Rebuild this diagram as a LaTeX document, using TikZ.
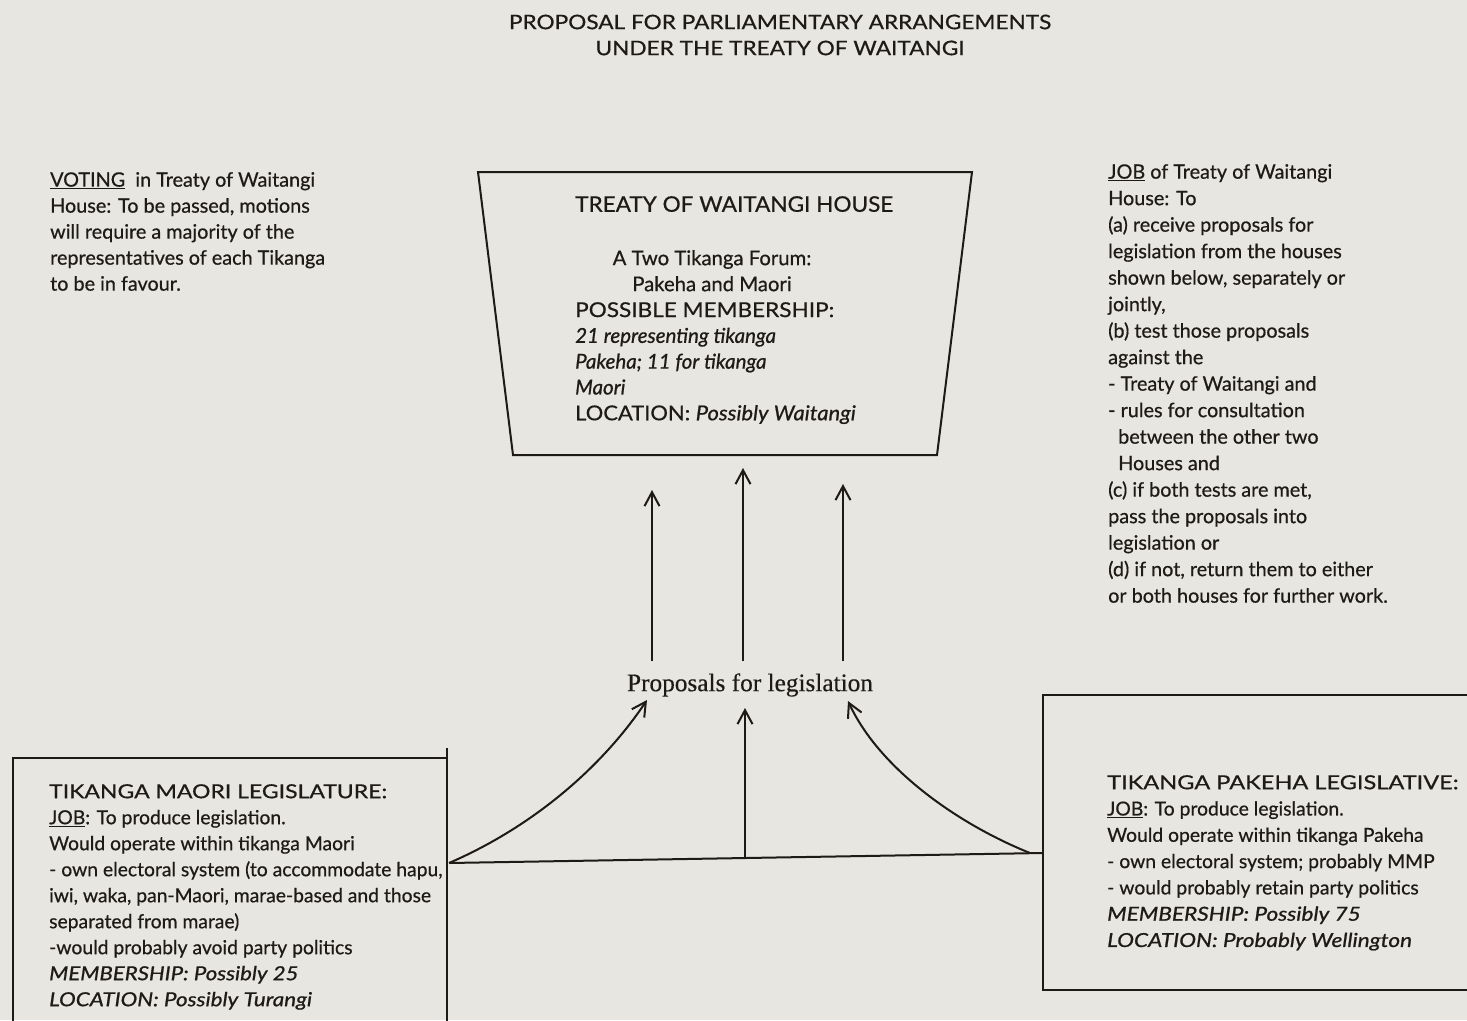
\documentclass[tikz,border=0pt]{standalone}
\usepackage{fontspec}
\setmainfont{Lato}[FakeBold=0.6, ItalicFeatures={FakeBold=0.8}]
\newfontfamily\labelserif{Liberation Serif}[FakeBold=0.4]
\usetikzlibrary{arrows.meta}
\definecolor{scanpaper}{RGB}{232,230,224}
\definecolor{scanink}{RGB}{30,26,24}
\newcommand{\wide}[2]{\scalebox{#1}[1]{#2}}

\begin{document}
\begin{tikzpicture}[x=1pt, y=-1pt,
    every node/.style={inner sep=0pt, text=scanink},
    note/.style={anchor=north west, align=left, font=\fontsize{19.3}{26}\selectfont},
    frame/.style={draw=scanink, line width=2pt},
    arrow/.style={-{Straight Barb[length=14pt, width=15pt, line width=2pt]}, draw=scanink, line width=2pt}
  ]
  \useasboundingbox (0,0) rectangle (1467,1020);
  \fill[scanpaper] (0,0) rectangle (1467,1020);

  % title
  \node[font=\fontsize{20}{26}\selectfont, align=center] (title) at (780,35)
    {\wide{1.13}{PROPOSAL FOR PARLIAMENTARY ARRANGEMENTS}\\\wide{1.13}{UNDER THE TREATY OF WAITANGI}};

  % treaty house
  \coordinate (houseTL) at (478,172);
  \coordinate (houseTR) at (972,172);
  \coordinate (houseBR) at (937,455);
  \coordinate (houseBL) at (513,455);
  \draw[frame] (houseTL) -- (houseTR) -- (houseBR) -- (houseBL) -- cycle;
  \node[note, font=\fontsize{21.5}{26}\selectfont] (houseName) at (575,196) {\wide{1.05}{TREATY OF WAITANGI HOUSE}};
  \node[anchor=north, align=center, font=\fontsize{20.3}{26}\selectfont] (forum) at (712,250)
    {A Two Tikanga Forum:\\Pakeha and Maori};
  \node[note, font=\fontsize{20.5}{25.8}\selectfont] (membership) at (575,302)
    {\wide{1.1}{POSSIBLE MEMBERSHIP:}\\
     \textit{21 representing tikanga}\\
     \textit{Pakeha; 11 for tikanga}\\
     \textit{Maori}\\
     \wide{1.07}{LOCATION: \textit{Possibly Waitangi}}};

  % side notes
  \node[note, font=\fontsize{19.8}{26}\selectfont] (voting) at (50,172)
    {\underline{VOTING}\ \ in Treaty of Waitangi\\
     House: To be passed, motions\\
     will require a majority of the\\
     representatives of each Tikanga\\
     to be in favour.};
  \node[note, font=\fontsize{19.8}{26.5}\selectfont] (houseJob) at (1108,164)
    {\underline{JOB} of Treaty of Waitangi\\
     House: To\\
     (a) receive proposals for\\
     legislation from the houses\\
     shown below, separately or\\
     jointly,\\
     (b) test those proposals\\
     against the\\
     - Treaty of Waitangi and\\
     - rules for consultation\\
     \hspace*{10pt}between the other two\\
     \hspace*{10pt}Houses and\\
     (c) if both tests are met,\\
     pass the proposals into\\
     legislation or\\
     (d) if not, return them to either\\
     or both houses for further work.};

  % proposals
  \node[font=\labelserif\fontsize{25.3}{28}\selectfont] (proposals) at (750,685) {Proposals for legislation};
  \coordinate (tipL) at (652,490);
  \coordinate (tipM) at (743,468);
  \coordinate (tipR) at (843,484);
  \draw[arrow, shorten <=12pt] (proposals.north -| tipL) -- (tipL);
  \draw[arrow, shorten <=12pt] (proposals.north -| tipM) -- (tipM);
  \draw[arrow, shorten <=12pt] (proposals.north -| tipR) -- (tipR);

  % legislatures
  \draw[frame] (13,1030) -- (13,758) -- (447,758);
  \draw[frame] (447,748) -- (447,1030);
  \node[note] (maori) at (49,784)
    {\wide{1.19}{TIKANGA MAORI LEGISLATURE:}\\
     \underline{JOB}: To produce legislation.\\
     Would operate within tikanga Maori\\
     - own electoral system (to accommodate hapu,\\
     iwi, waka, pan-Maori, marae-based and those\\
     separated from marae)\\
     -would probably avoid party politics\\
     \wide{1.15}{\textit{MEMBERSHIP: Possibly 25}}\\
     \wide{1.16}{\textit{LOCATION: Possibly Turangi}}};
  \draw[frame] (1470,695) -- (1043,695) -- (1043,990) -- (1470,990);
  \node[note, font=\fontsize{19.3}{26.3}\selectfont] (pakeha) at (1107,775)
    {\wide{1.22}{TIKANGA PAKEHA LEGISLATIVE:}\\
     \underline{JOB}: To produce legislation.\\
     Would operate within tikanga Pakeha\\
     - own electoral system; probably MMP\\
     - would probably retain party politics\\
     \wide{1.17}{\textit{MEMBERSHIP: Possibly 75}}\\
     \wide{1.17}{\textit{LOCATION: Probably Wellington}}};

  % links
  \coordinate (joinL) at (449,863);
  \coordinate (joinR) at (1043,853);
  \coordinate (joinM) at (745,858);
  \coordinate (curveR) at (1030,853);
  \coordinate (tipCL) at (647,700);
  \coordinate (tipCM) at (745,708);
  \coordinate (tipCR) at (848,701);
  \draw[frame] (joinL) -- (joinR);
  \draw[arrow] (joinM) -- (tipCM);
  \draw[arrow] (joinL) .. controls (530,828) and (600,770) .. (tipCL);
  \draw[arrow] (curveR) .. controls (960,825) and (880,770) .. (tipCR);
\end{tikzpicture}
\end{document}
